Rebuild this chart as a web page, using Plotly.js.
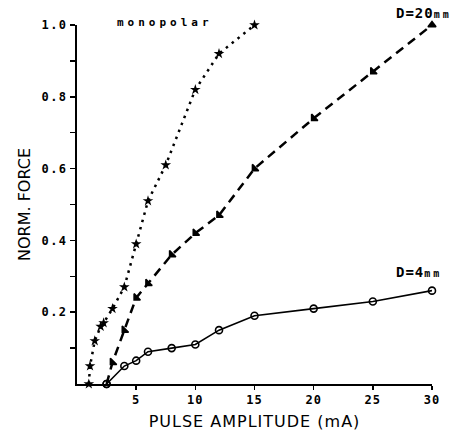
<!DOCTYPE html>
<html>
<head>
<meta charset="utf-8">
<script src="https://cdn.plot.ly/plotly-3.0.1.min.js"></script>
<style>
  html, body { margin: 0; padding: 0; background: #fff; }
  #chart { width: 459px; height: 436px; }
</style>
</head>
<body>
<div id="chart"></div>
<script>
// ---- data ----
const monoX = [1, 1.1, 1.5, 2, 2.25, 3, 4, 5, 6, 7.5, 10, 12, 15];
const monoY = [0, 0.05, 0.12, 0.16, 0.17, 0.21, 0.27, 0.39, 0.51, 0.61, 0.82, 0.92, 1.0];

const d20X = [2.5, 3, 4, 5, 6, 8, 10, 12, 15, 20, 25, 30];
const d20Y = [0, 0.06, 0.15, 0.24, 0.28, 0.36, 0.42, 0.47, 0.60, 0.74, 0.87, 1.0];
const d20Symbols = ['circle-open', 'triangle-sw', 'triangle-sw', 'triangle-sw', 'triangle-sw', 'triangle-sw',
                    'triangle-sw', 'triangle-sw', 'triangle-sw', 'triangle-sw', 'triangle-sw', 'triangle-up'];

const d4X = [2.5, 4, 5, 6, 8, 10, 12, 15, 20, 25, 30];
const d4Y = [0, 0.05, 0.065, 0.09, 0.10, 0.11, 0.15, 0.19, 0.21, 0.23, 0.26];

const xTickVals = [5, 10, 15, 20, 25, 30];
const xTickText = ['5', '10', '15', '20', '25', '30'];
const yTickVals = [0.1, 0.2, 0.3, 0.4, 0.5, 0.6, 0.7, 0.8, 0.9, 1.0];
const yTickText = ['', '0.2', '', '0.4', '', '0.6', '', '0.8', '', '1.0'];

const xTitle = 'PULSE AMPLITUDE (mA)';
const yTitle = 'NORM. FORCE';
const labelMono = 'monopolar';
const labelD20 = 'D=20';
const labelD4 = 'D=4';
const unitMM = 'mm';

const sp = (t, px) => t ? '<span style="letter-spacing:' + px + 'px">' + t + '</span>' : '';

const tickFont = { family: 'DejaVu Sans Mono', size: 12, color: '#000', weight: 'bold' };
const titleFont = { family: 'DejaVu Sans', size: 16, color: '#000' };

const traces = [
  {
    x: monoX, y: monoY, mode: 'lines+markers', name: 'monopolar',
    line: { color: '#000', width: 2.5, dash: '2.5px,5px' },
    marker: { symbol: 'star', size: 8, color: '#000' },
    cliponaxis: false
  },
  {
    x: d20X, y: d20Y, mode: 'lines+markers', name: 'D=20mm',
    line: { color: '#000', width: 2.5, dash: '9px,6px' },
    marker: { symbol: d20Symbols, size: 7, color: '#000', line: { color: '#000', width: 1.5 } },
    cliponaxis: false
  },
  {
    x: d4X, y: d4Y, mode: 'lines+markers', name: 'D=4mm',
    line: { color: '#000', width: 1.6 },
    marker: { symbol: 'circle-open', size: 7, color: '#000', line: { color: '#000', width: 1.6 } },
    cliponaxis: false
  }
];

const layout = {
  width: 459, height: 436,
  margin: { l: 77, r: 27, t: 25, b: 52 },
  paper_bgcolor: '#fff', plot_bgcolor: '#fff',
  showlegend: false,
  xaxis: {
    range: [0, 30], showgrid: false, zeroline: false,
    showline: true, linecolor: '#000', linewidth: 1.5,
    ticks: 'outside', ticklen: 4, tickwidth: 1.5, tickcolor: '#000',
    tickvals: xTickVals, ticktext: xTickText.map(t => sp(t, 1)), tickfont: tickFont,
    title: { text: sp(xTitle, 1), font: titleFont, standoff: 10 }
  },
  yaxis: {
    range: [0, 1.0], showgrid: false, zeroline: false,
    showline: true, linecolor: '#000', linewidth: 2,
    ticks: 'outside', ticklen: 5, tickwidth: 1.5, tickcolor: '#000',
    tickvals: yTickVals, ticktext: yTickText.map(t => sp(t, 1.5)), tickfont: tickFont,
    title: { text: yTitle, font: titleFont, standoff: 7 }
  },
  annotations: [
    { text: sp(labelMono, 4), xref: 'paper', yref: 'paper', x: 0.248, y: 1.006,
      xanchor: 'center', yanchor: 'middle', showarrow: false,
      font: { family: 'DejaVu Sans Mono', size: 11, color: '#000', weight: 'bold' } },
    { text: sp(labelD20, 1) + '<span style="font-size:10px;letter-spacing:3px">' + unitMM + '</span>',
      xref: 'paper', yref: 'paper', x: 0.893, y: 1.033,
      xanchor: 'left', yanchor: 'middle', showarrow: false,
      font: { family: 'DejaVu Sans Mono', size: 14, color: '#000', weight: 'bold' } },
    { text: sp(labelD4, 1) + '<span style="font-size:10px;letter-spacing:3px">' + unitMM + '</span>',
      xref: 'paper', yref: 'paper', x: 0.893, y: 0.312,
      xanchor: 'left', yanchor: 'middle', showarrow: false,
      font: { family: 'DejaVu Sans Mono', size: 14, color: '#000', weight: 'bold' } }
  ]
};

Plotly.newPlot('chart', traces, layout, { staticPlot: true, displayModeBar: false });
</script>
</body>
</html>
